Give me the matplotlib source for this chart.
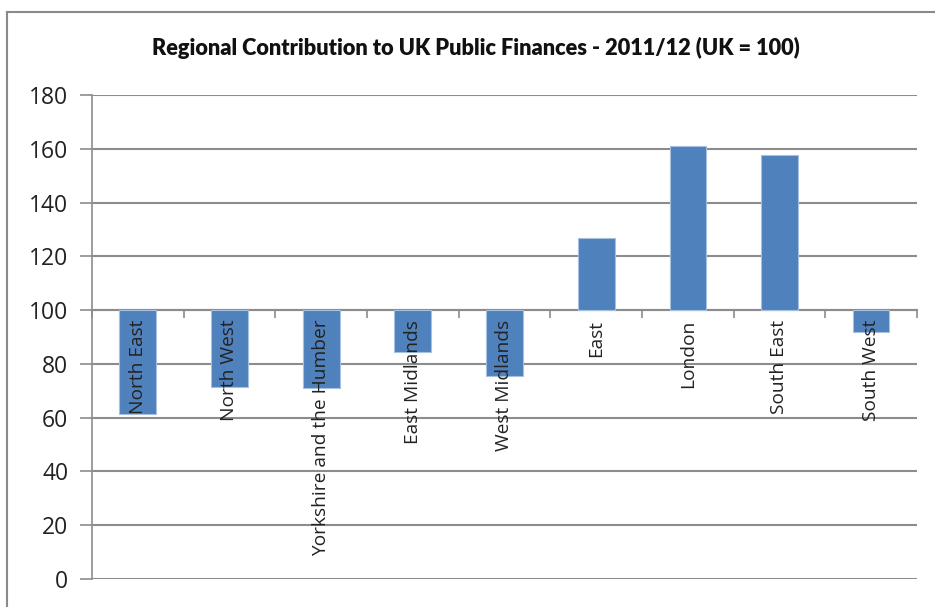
import numpy as np
import matplotlib.pyplot as plt
from matplotlib.lines import Line2D

regions = ['North East', 'North West', 'Yorkshire and the Humber', 'East Midlands',
           'West Midlands', 'East', 'London', 'South East', 'South West']
index_values = [61.5, 71.5, 71.0, 84.5, 75.5, 127.0, 161.0, 157.5, 92.0]
uk_level = 100
y_ticks = [0, 20, 40, 60, 80, 100, 120, 140, 160, 180]

title = 'Regional Contribution to UK Public Finances - 2011/12 (UK = 100)'
bar_col = '#4f81bd'
grid_col = '#8c8c8c'

fig = plt.figure(figsize=(9.35, 6.07), dpi=100)
# plot area in pixels: x 92..917, y 95..579 (from top)
ax = fig.add_axes([92 / 935, 1 - 579 / 607, (917 - 92) / 935, (579 - 95) / 607])

x = np.arange(len(regions))
vals = np.array(index_values)
ax.bar(x, vals - uk_level, bottom=uk_level, width=0.4, color=bar_col,
       edgecolor='#a8c0e0', linewidth=0.8, zorder=3)

ax.set_xlim(-0.5, len(regions) - 0.5)
ax.set_ylim(0, 180)
ax.set_yticks(y_ticks)
ax.set_yticklabels([str(t) for t in y_ticks], fontsize=16.5,
                   family=['Open Sans', 'DejaVu Sans'], color='#222222')
ax.yaxis.grid(True, color=grid_col, linewidth=1.5, zorder=0)
ax.set_axisbelow(True)
ax.tick_params(axis='y', length=9, width=1.2, color=grid_col, pad=8)

# category axis crosses at 100
for s in ['top', 'right']:
    ax.spines[s].set_visible(False)
ax.spines['left'].set_color(grid_col)
ax.spines['left'].set_linewidth(1.2)
ax.spines['bottom'].set_position(('data', uk_level))
ax.spines['bottom'].set_color(grid_col)
ax.spines['bottom'].set_linewidth(1.5)
ax.set_xticks(np.arange(len(regions) + 1) - 0.5)
ax.set_xticklabels([])
ax.tick_params(axis='x', length=6, width=1.2, color=grid_col, direction='out')

for i, name in enumerate(regions):
    ax.annotate(name, xy=(i, uk_level), xytext=(0, -7), textcoords='offset points',
                rotation=90, ha='center', va='top', fontsize=13.8,
                family=['Open Sans', 'DejaVu Sans'], color='#222222', zorder=4)

fig.text(476 / 935, 1 - 48 / 607, title, ha='center', va='center', fontsize=15.7,
         fontweight='heavy', family=['Lato', 'DejaVu Sans'], color='#111111')

# chart frame (partly cut off at right and bottom)
fig.add_artist(Line2D([6.5 / 935, 6.5 / 935], [0, 1 - 12 / 607],
                      transform=fig.transFigure, color='#8a8a8a', linewidth=1.5))
fig.add_artist(Line2D([6.5 / 935, 1], [1 - 12 / 607, 1 - 12 / 607],
                      transform=fig.transFigure, color='#8a8a8a', linewidth=1.5))

fig.savefig('out.png', dpi=100)
